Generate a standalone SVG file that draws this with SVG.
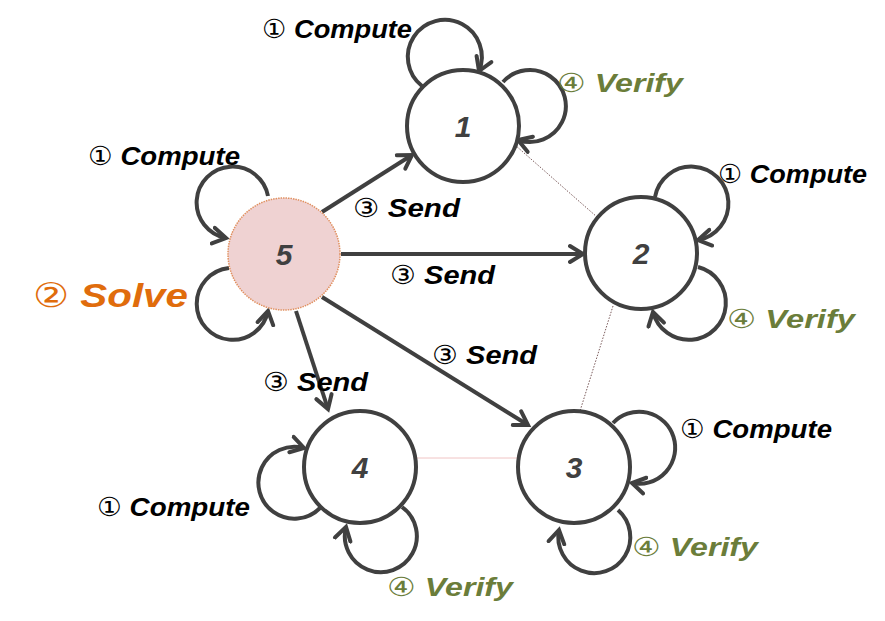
<svg xmlns="http://www.w3.org/2000/svg" width="885" height="621" viewBox="0 0 885 621">
<style>
.node{fill:#fff;stroke:#404040;stroke-width:4}
.num{font-family:"Liberation Sans","DejaVu Sans",sans-serif;font-weight:bold;font-style:italic;font-size:30px;fill:#404040;text-anchor:middle}
.lbl{font-family:"Liberation Sans","DejaVu Sans",sans-serif;font-weight:bold;font-style:italic;font-size:26px;fill:#000}
.cd{font-family:"DejaVu Serif","DejaVu Sans",serif;font-weight:normal}
.ver{fill:#6b7d3a}
.sol{fill:#e06c0c;font-size:34px}
.edge{fill:none;stroke:#404040;stroke-width:4;marker-end:url(#arr)}
.dot{fill:none;stroke:#7a5a5a;stroke-width:1;stroke-dasharray:1.5,1.5}
</style>
<defs>
<marker id="arr" markerUnits="userSpaceOnUse" markerWidth="30" markerHeight="30" viewBox="-15 -15 30 30" refX="0" refY="0" orient="auto">
<path d="M-13,-8 L0,0 L-13,8" fill="none" stroke="#404040" stroke-width="4" stroke-linecap="round"/>
</marker>
</defs>
<g id="connectors">
<line class="dot" x1="515" y1="145" x2="597" y2="217"/>
<line class="dot" x1="613" y1="306" x2="580" y2="411"/>
<line x1="417" y1="458" x2="518" y2="458" stroke="#f0c4c4" stroke-width="1"/>
<line class="edge" x1="322" y1="212" x2="412" y2="155"/>
<line class="edge" x1="341" y1="254" x2="583" y2="254"/>
<line class="edge" x1="322" y1="297" x2="528" y2="425"/>
<line class="edge" x1="296" y1="311" x2="328" y2="409"/>
<path class="edge" d="M422,86 A37,37 0 1 1 479,71"/>
<path class="edge" d="M503,82 A36,36 0 1 1 518,140"/>
<path class="edge" d="M268,196 A36,36 0 1 0 226,238"/>
<path class="edge" d="M229,268 A36,36 0 1 0 268,311"/>
<path class="edge" d="M655,197 A37,37 0 1 1 698,240"/>
<path class="edge" d="M698,267 A37,37 0 1 1 653,312"/>
<path class="edge" d="M613,423 A36,36 0 1 1 632,483"/>
<path class="edge" d="M618,510 A36,36 0 1 1 559,530"/>
<path class="edge" d="M320,508 A36,36 0 1 1 304,448"/>
<path class="edge" d="M402,507 A36,36 0 1 1 346,527"/>
</g>
<g id="node1"><circle class="node" cx="463" cy="126" r="56"/><text class="num" x="463" y="137">1</text></g>
<g id="node2"><circle class="node" cx="641" cy="253" r="56"/><text class="num" x="641" y="264">2</text></g>
<g id="node3"><circle class="node" cx="574" cy="467" r="56"/><text class="num" x="574" y="478">3</text></g>
<g id="node4"><circle class="node" cx="360" cy="467" r="56"/><text class="num" x="360" y="478">4</text></g>
<g id="node5"><circle cx="284" cy="254" r="56" fill="#efd2d2" stroke="#e09060" stroke-width="1.5" stroke-dasharray="1.5,1"/><text class="num" x="284" y="265">5</text></g>
<g id="labels">
<text class="lbl" x="262" y="38" textLength="150" lengthAdjust="spacingAndGlyphs"><tspan class="cd">①</tspan> Compute</text>
<text class="lbl ver" x="557" y="92" textLength="126" lengthAdjust="spacingAndGlyphs"><tspan class="cd">④</tspan> Verify</text>
<text class="lbl" x="88" y="165" textLength="152" lengthAdjust="spacingAndGlyphs"><tspan class="cd">①</tspan> Compute</text>
<text class="lbl" x="353" y="217" textLength="107" lengthAdjust="spacingAndGlyphs"><tspan class="cd">③</tspan> Send</text>
<text class="lbl" x="718" y="183" textLength="149" lengthAdjust="spacingAndGlyphs"><tspan class="cd">①</tspan> Compute</text>
<text class="lbl sol" x="33" y="307" textLength="155" lengthAdjust="spacingAndGlyphs"><tspan class="cd">②</tspan> Solve</text>
<text class="lbl" x="390" y="284" textLength="105" lengthAdjust="spacingAndGlyphs"><tspan class="cd">③</tspan> Send</text>
<text class="lbl ver" x="727" y="328" textLength="128" lengthAdjust="spacingAndGlyphs"><tspan class="cd">④</tspan> Verify</text>
<text class="lbl" x="432" y="364" textLength="105" lengthAdjust="spacingAndGlyphs"><tspan class="cd">③</tspan> Send</text>
<text class="lbl" x="263" y="391" textLength="105" lengthAdjust="spacingAndGlyphs"><tspan class="cd">③</tspan> Send</text>
<text class="lbl" x="680" y="438" textLength="152" lengthAdjust="spacingAndGlyphs"><tspan class="cd">①</tspan> Compute</text>
<text class="lbl" x="97" y="516" textLength="153" lengthAdjust="spacingAndGlyphs"><tspan class="cd">①</tspan> Compute</text>
<text class="lbl ver" x="632" y="556" textLength="126" lengthAdjust="spacingAndGlyphs"><tspan class="cd">④</tspan> Verify</text>
<text class="lbl ver" x="387" y="596" textLength="126" lengthAdjust="spacingAndGlyphs"><tspan class="cd">④</tspan> Verify</text>
</g>
</svg>
